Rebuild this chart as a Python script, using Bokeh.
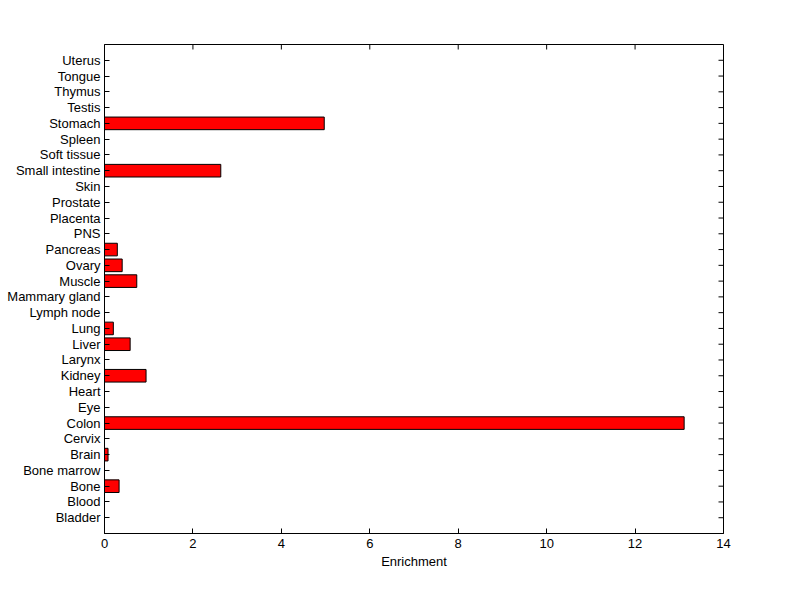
import math
from bokeh.plotting import figure
from bokeh.models import Range1d, FixedTicker, ColumnDataSource
from bokeh.embed import file_html
from bokeh.resources import INLINE

tissues = ["Bladder", "Blood", "Bone", "Bone marrow", "Brain", "Cervix", "Colon",
           "Eye", "Heart", "Kidney", "Larynx", "Liver", "Lung", "Lymph node",
           "Mammary gland", "Muscle", "Ovary", "Pancreas", "PNS", "Placenta",
           "Prostate", "Skin", "Small intestine", "Soft tissue", "Spleen",
           "Stomach", "Testis", "Thymus", "Tongue", "Uterus"]
enrichment = [0, 0, 0.33, 0, 0.08, 0, 13.11,
              0, 0, 0.94, 0, 0.58, 0.20, 0,
              0, 0.73, 0.40, 0.29, 0, 0,
              0, 0, 2.63, 0, 0,
              4.97, 0, 0, 0, 0]
x_ticks = [0, 2, 4, 6, 8, 10, 12, 14]

positions = list(range(1, len(tissues) + 1))
y_max = len(tissues) + 1
x_max = x_ticks[-1]
src = ColumnDataSource(dict(y=positions, right=enrichment, name=tissues))

FONT = "Liberation Sans"
FS = "13px"

p = figure(width=790, height=590, output_backend="svg", toolbar_location=None,
           x_range=Range1d(0, x_max), y_range=Range1d(0, y_max),
           min_border_left=104, min_border_right=67, min_border_top=44, min_border_bottom=57)
p.background_fill_color = "white"
p.border_fill_color = "white"
p.outline_line_color = "black"
p.outline_line_width = 1
p.grid.visible = False

p.hbar(y="y", right="right", left=0, height=0.8, source=src,
       fill_color="#ff0000", line_color="black", line_width=1)

# inward ticks on the top and right edges of the box
p.ray(x=x_ticks, y=[y_max] * len(x_ticks), length=5, length_units="screen",
      angle=-math.pi / 2, line_color="black", line_width=1)
p.ray(x=[x_max] * len(positions), y=positions, length=5, length_units="screen",
      angle=math.pi, line_color="black", line_width=1)

def style(ax):
    ax.major_tick_in = 5
    ax.major_tick_out = 0
    ax.minor_tick_line_color = None
    ax.axis_line_color = "black"
    ax.major_tick_line_color = "black"
    ax.major_label_text_font = FONT
    ax.major_label_text_font_size = FS
    ax.major_label_text_color = "black"
    ax.axis_label_text_font = FONT
    ax.axis_label_text_font_size = FS
    ax.axis_label_text_font_style = "normal"
    ax.axis_label_text_color = "black"

xax = p.xaxis[0]
xax.ticker = FixedTicker(ticks=x_ticks)
xax.axis_label = "Enrichment"
style(xax)
xax.major_label_standoff = 5
xax.axis_label_standoff = 3

yax = p.yaxis[0]
yax.ticker = FixedTicker(ticks=positions)
yax.major_label_overrides = {i: n for i, n in zip(positions, tissues)}
style(yax)
yax.major_label_standoff = 4

open("out.html", "w").write(file_html(p, INLINE))
